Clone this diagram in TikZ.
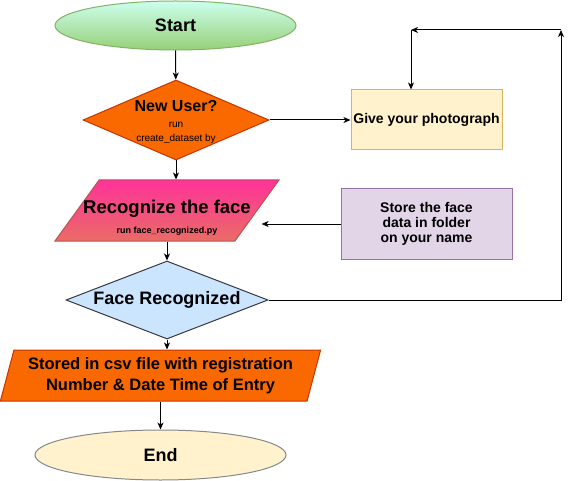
\documentclass[tikz,border=0pt]{standalone}
\usepackage{fontspec}
\setmainfont{Liberation Sans}
\usetikzlibrary{shapes.geometric,arrows.meta}

\definecolor{startTop}{HTML}{CCFFEE}
\definecolor{startBot}{HTML}{97D077}
\definecolor{startLine}{HTML}{82B366}
\definecolor{orangeFill}{HTML}{FA6800}
\definecolor{orangeLine}{HTML}{C73500}
\definecolor{pinkTop}{HTML}{FF3399}
\definecolor{pinkBot}{HTML}{EA6B66}
\definecolor{pinkLine}{HTML}{B85450}
\definecolor{yellowFill}{HTML}{FFF2CC}
\definecolor{yellowLine}{HTML}{D6B656}
\definecolor{purpleFill}{HTML}{E1D5E7}
\definecolor{purpleLine}{HTML}{9673A6}
\definecolor{blueFill}{HTML}{CCE5FF}
\definecolor{greyLine}{HTML}{36393D}

\newcommand{\fsz}[1]{\fontsize{#1}{#1}\selectfont}

\begin{document}
\begin{tikzpicture}[x=1pt,y=-1pt,font=\bfseries,line width=1pt,
    arr/.style={-{Stealth[length=7pt,width=6pt,inset=2pt]}},
    oval/.style={ellipse,inner sep=0pt},
    decision/.style={diamond,inner sep=0.5pt},
    slanted/.style={trapezium,trapezium left angle=72,trapezium right angle=108,
      trapezium stretches=true,inner sep=0.5pt},
    box/.style={rectangle,inner sep=0pt}]
  \useasboundingbox (0,0) rectangle (570,481);
  % Draw start and end
  \node (start) [oval,draw=startLine,top color=startTop,bottom color=startBot,
    minimum width=241pt,minimum height=49pt] at (175.5,25.5) {\fsz{18}Start};
  \node (finish) [oval,draw=greyLine!60,fill=yellowFill,
    minimum width=251pt,minimum height=50pt] at (160.5,455) {\fsz{18}End};
  % Draw the decisions
  \node (newuser) [decision,draw=orangeLine,fill=orangeFill,
    minimum width=186pt,minimum height=80pt] at (176,120) {};
  \node at (176,106) {\fsz{16}New User?};
  \node [align=center,font=\fsz{10}\mdseries] at (176,132.5) {run\\[4pt]create\_dataset by};
  \node (face) [decision,draw=greyLine,fill=blueFill,
    minimum width=202pt,minimum height=78pt] at (167,300) {};
  \node at (167,300) {\fsz{18}Face Recognized};
  % Draw the slanted steps
  \node (recog) [slanted,draw=pinkLine,top color=pinkTop,bottom color=pinkBot,
    minimum width=224pt,minimum height=61pt] at (167,210.5) {};
  \node at (167,209) {\fsz{18.5}Recognize the face};
  \node [font=\fsz{9}\bfseries] at (167,231) {run face\_recognized.py};
  \node (stored) [slanted,draw=orangeLine,fill=orangeFill,align=center,
    minimum width=321pt,minimum height=51pt] at (160.5,375.5)
    {\fsz{16.5}Stored in csv file with registration\\[5pt]\fsz{16.5}Number \& Date Time of Entry};
  % Draw the side boxes
  \node (give) [box,draw=yellowLine,fill=yellowFill,
    minimum width=151pt,minimum height=60pt] at (426.5,120) {\fsz{14}Give your photograph};
  \node (store) [box,draw=purpleLine,fill=purpleFill,align=center,
    minimum width=171pt,minimum height=70pt] at (426.5,224)
    {\fsz{14}Store the face\\[3pt]\fsz{14}data in folder\\[3pt]\fsz{14}on your name};
  % Draw the main flow
  \draw[arr] (start) -- (newuser);
  \draw[arr] (newuser.south) -- (newuser.south |- recog.north);
  \draw[arr] (face.north |- recog.south) -- (face.north);
  \draw[arr] (face.south) -- (face.south |- stored.north);
  \draw[arr] (finish.north |- stored.south) -- (finish.north);
  \draw[arr] (newuser.east) -- (give.west);
  \draw[arr,shorten >=4pt] (store.west) -- (store.west -| recog.east);
  % Draw the loop back
  \coordinate (loopR) at (561,30);
  \coordinate (loopL) at (411,30);
  \draw[arr] (face.east) -| (loopR);
  \draw[arr] (loopR) -- (loopL);
  \draw[arr] (loopL) -- (loopL |- give.north);
\end{tikzpicture}
\end{document}
